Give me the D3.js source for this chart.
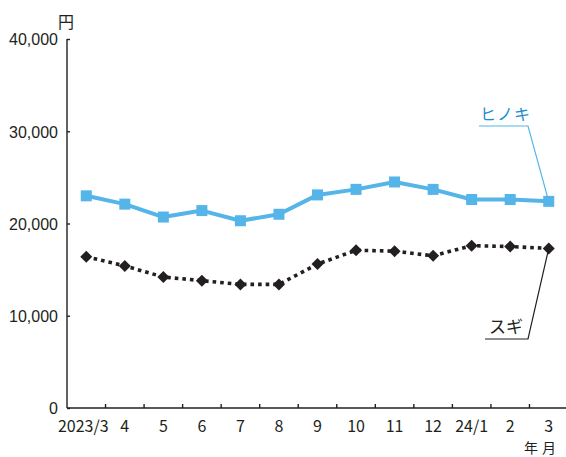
<!DOCTYPE html>
<html>
<head>
<meta charset="utf-8">
<script src="https://cdn.jsdelivr.net/npm/d3@7"></script>
<style>
  html, body { margin: 0; padding: 0; background: #fff; }
  svg { display: block; }
</style>
</head>
<body>
<svg id="chart" width="566" height="457"></svg>
<script>
// Monthly prices (円) for hinoki and sugi logs
const months = ["2023/3", "4", "5", "6", "7", "8", "9", "10", "11", "12", "24/1", "2", "3"];
const hinoki = [23000, 22100, 20700, 21400, 20300, 21000, 23100, 23700, 24500, 23700, 22600, 22600, 22400];
const sugi = [16400, 15400, 14200, 13800, 13400, 13400, 15600, 17100, 17000, 16500, 17600, 17500, 17300];
const yTicks = [0, 10000, 20000, 30000, 40000];

const svg = d3.select("#chart");
const axisColor = "#231f20";
const hinokiColor = "#55b4e8";
const hinokiText = "#1a8ccf";
const sugiColor = "#231f20";

const x = d3.scaleBand().domain(months).range([67, 568]).paddingInner(0).paddingOuter(0);
const y = d3.scaleLinear().domain([0, 40000]).range([408, 39]);
const cx = d => x(d) + x.bandwidth() / 2;

// Y axis: inward ticks, comma-grouped labels
const yAxis = svg.append("g").attr("transform", "translate(67,0)")
  .call(d3.axisRight(y).tickValues(yTicks).tickSize(3).tickFormat(d3.format(",")));
yAxis.select(".domain").attr("d", `M0,${y(40000)}V${y(0)}`).attr("stroke", axisColor).attr("stroke-width", 1.4);
yAxis.selectAll(".tick line").attr("stroke", axisColor).attr("stroke-width", 1.4);
yAxis.selectAll(".tick text")
  .attr("x", -9).attr("text-anchor", "end").attr("dy", "0.36em")
  .attr("fill", axisColor)
  .style("font-family", "'Liberation Sans', Arial, sans-serif").style("font-size", "16px");

// X axis: baseline, ticks at month boundaries, labels centred in each month
const xg = svg.append("g");
xg.append("line").attr("x1", 67).attr("x2", 568).attr("y1", y(0)).attr("y2", y(0))
  .attr("stroke", axisColor).attr("stroke-width", 1.4);
xg.selectAll("line.tick").data(months.slice(1)).join("line").attr("class", "tick")
  .attr("x1", d => x(d)).attr("x2", d => x(d))
  .attr("y1", y(0)).attr("y2", y(0) - 4)
  .attr("stroke", axisColor).attr("stroke-width", 1.4);
xg.selectAll("text").data(months).join("text")
  .attr("x", (d, i) => cx(d) - (i === 0 ? 3 : 0))
  .attr("y", 431.5)
  .attr("text-anchor", "middle")
  .attr("fill", axisColor)
  .style("font-family", "'Noto Sans CJK JP', sans-serif").style("font-size", "16px")
  .text(d => d);

// Unit labels
svg.append("text").attr("x", 58).attr("y", 28).attr("fill", axisColor)
  .style("font-family", "'Noto Sans CJK JP', sans-serif").style("font-size", "16px").text("円");
const unitX = svg.append("text").attr("x", 556).attr("y", 452.8).attr("text-anchor", "end").attr("fill", axisColor)
  .style("font-family", "'Noto Sans CJK JP', sans-serif").style("font-size", "14px");
unitX.append("tspan").text("年");
unitX.append("tspan").attr("dx", 4).text("月");

const line = d3.line().x((d, i) => cx(months[i])).y(d => y(d));

// Hinoki: solid light-blue line with square markers
svg.append("path").datum(hinoki).attr("d", line)
  .attr("fill", "none").attr("stroke", hinokiColor).attr("stroke-width", 4).attr("stroke-linejoin", "round");
svg.selectAll("rect.hinoki").data(hinoki).join("rect").attr("class", "hinoki")
  .attr("x", (d, i) => cx(months[i]) - 5.5).attr("y", d => y(d) - 5.5)
  .attr("width", 11).attr("height", 11).attr("fill", hinokiColor);

// Sugi: dotted black line with diamond markers
svg.append("path").datum(sugi).attr("d", line)
  .attr("fill", "none").attr("stroke", sugiColor).attr("stroke-width", 3.6).attr("stroke-dasharray", "3.6,4");
const diamond = d3.symbol().type(d3.symbolSquare).size(72);
svg.selectAll("path.sugi").data(sugi).join("path").attr("class", "sugi")
  .attr("d", diamond)
  .attr("transform", (d, i) => `translate(${cx(months[i])},${y(d)}) rotate(45)`)
  .attr("fill", sugiColor);

// Series labels with leader lines to the latest point
const last = months.length - 1;
const lx = cx(months[last]);
svg.append("path")
  .attr("d", `M479,126H528L${lx},${y(hinoki[last])}`)
  .attr("fill", "none").attr("stroke", hinokiColor).attr("stroke-width", 1.2);
svg.append("text").attr("x", 480).attr("y", 120).attr("fill", hinokiText)
  .style("font-family", "'Noto Sans CJK JP', sans-serif").style("font-size", "16px")
  .attr("letter-spacing", "1px").text("ヒノキ");

svg.append("path")
  .attr("d", `M485,339H528L${lx},${y(sugi[last])}`)
  .attr("fill", "none").attr("stroke", sugiColor).attr("stroke-width", 1.2);
svg.append("text").attr("x", 489).attr("y", 333).attr("fill", sugiColor)
  .style("font-family", "'Noto Sans CJK JP', sans-serif").style("font-size", "17px")
  .text("スギ");
</script>
</body>
</html>
